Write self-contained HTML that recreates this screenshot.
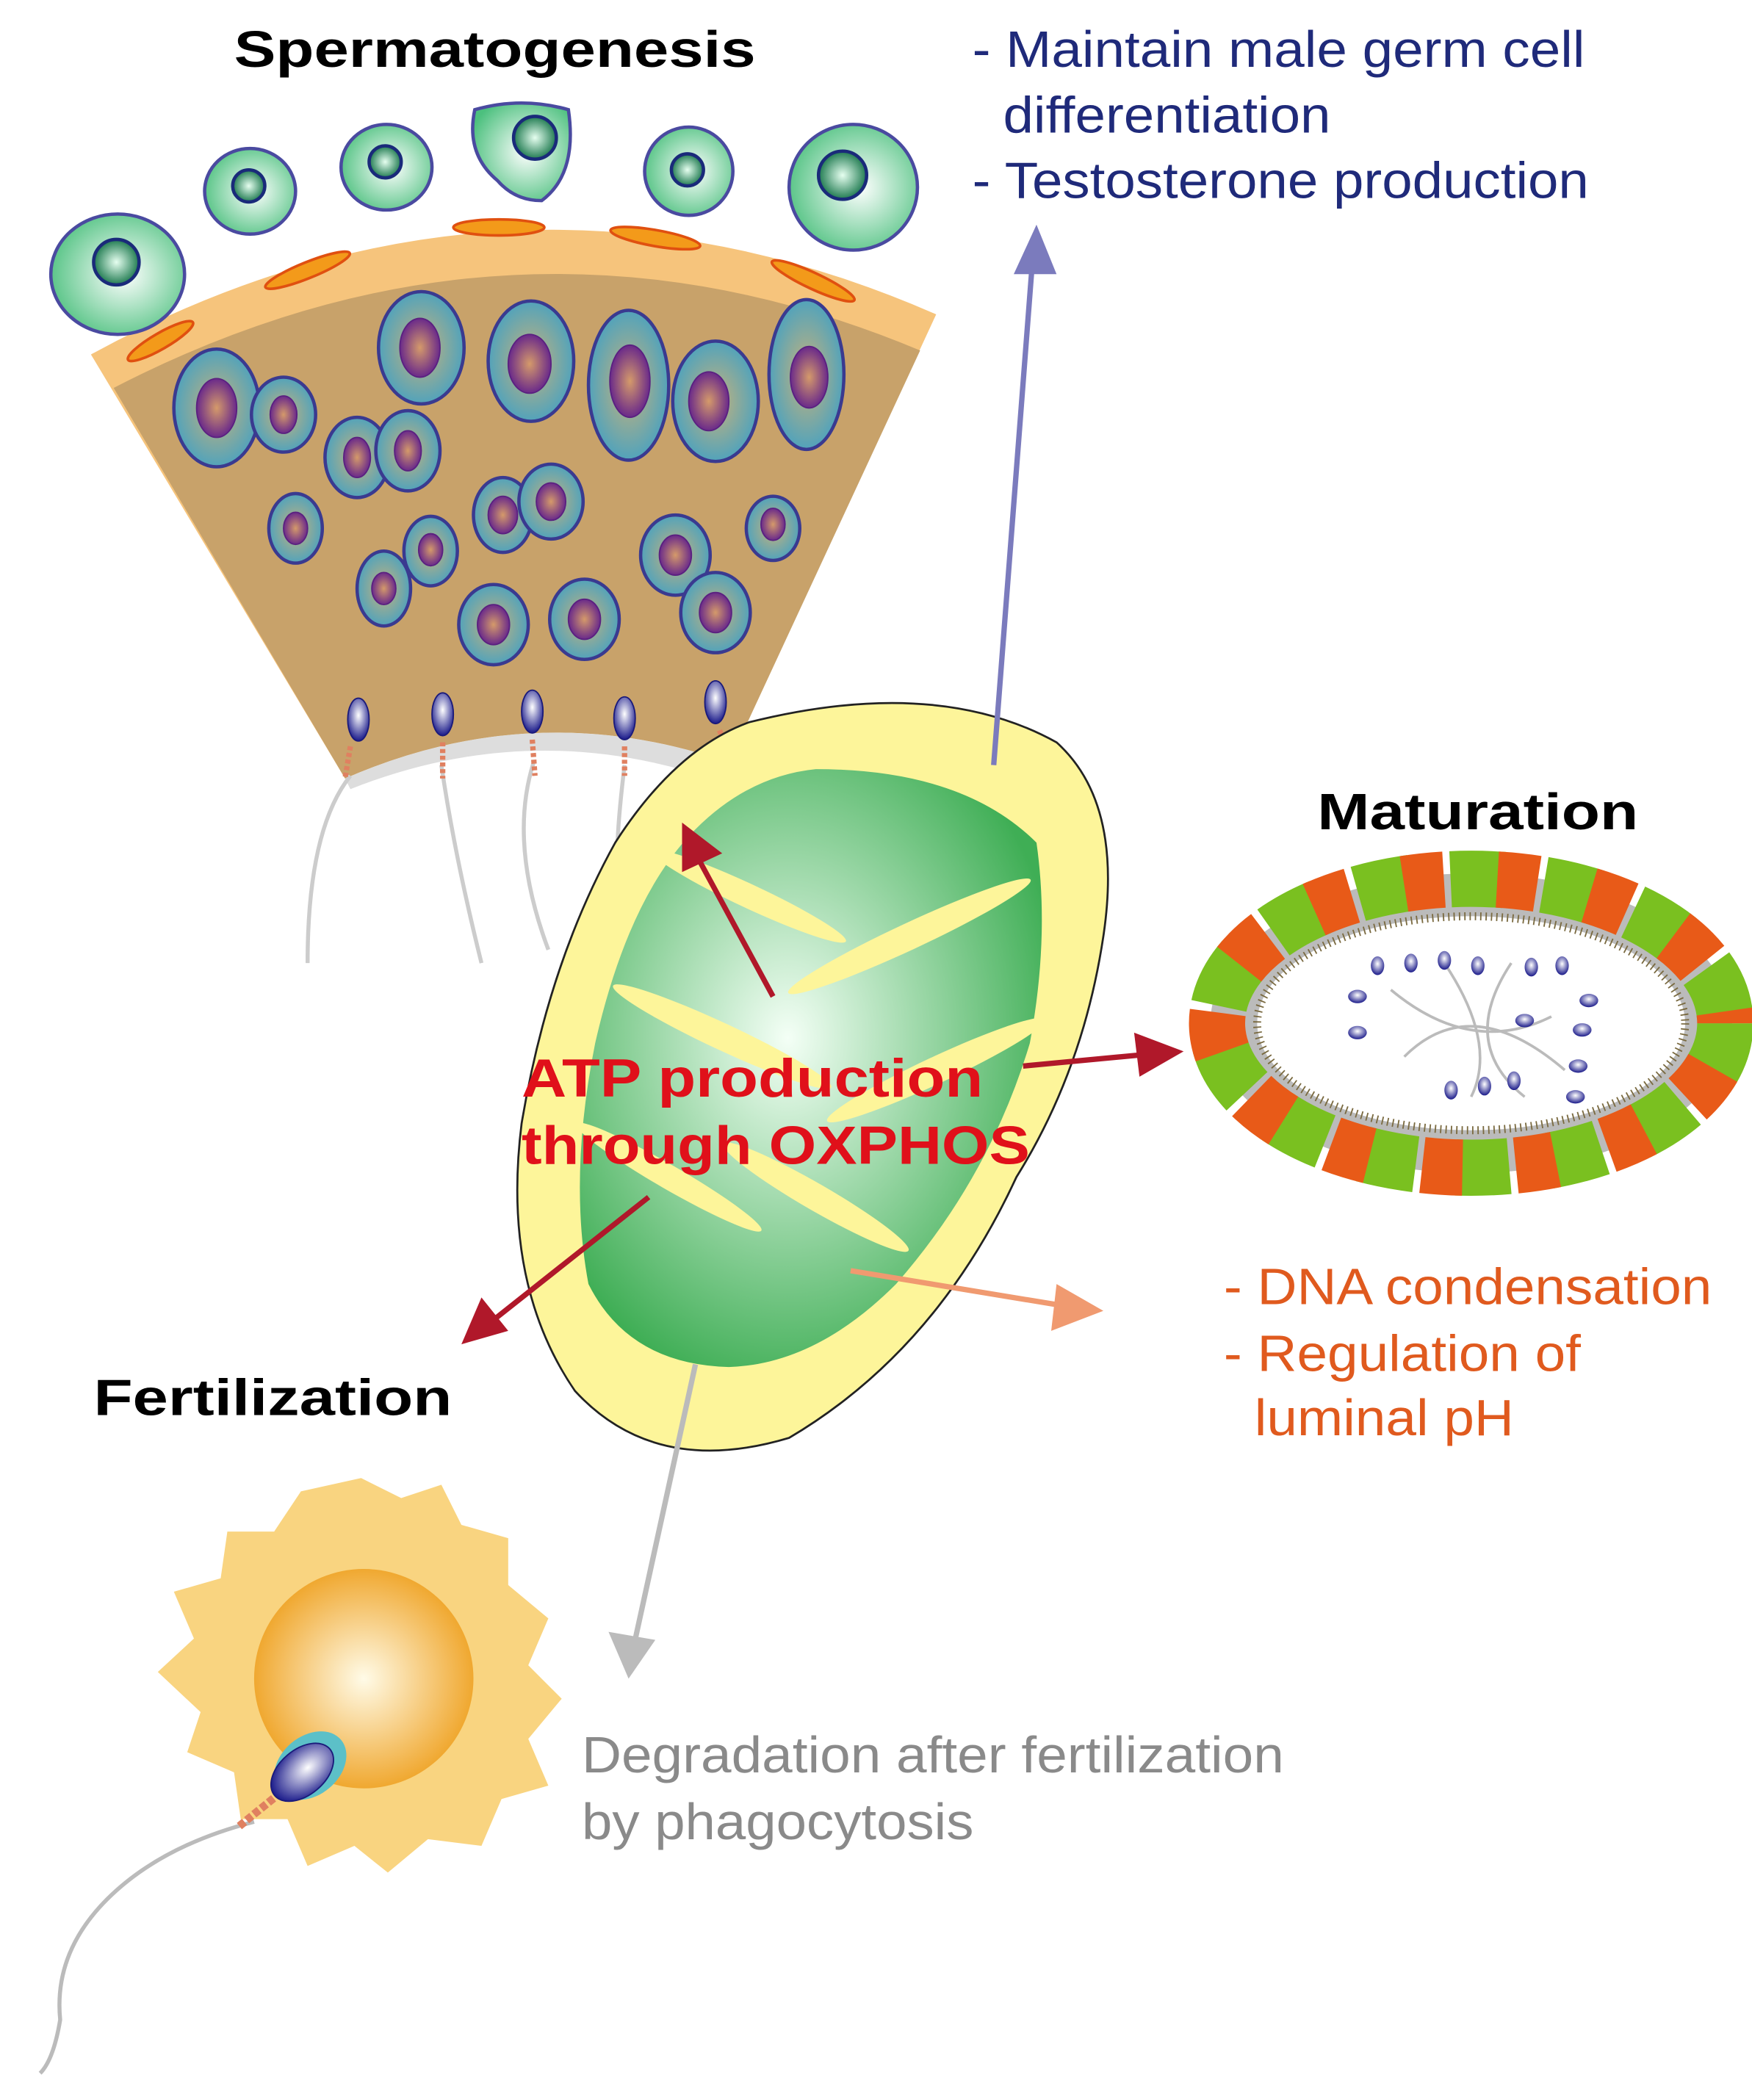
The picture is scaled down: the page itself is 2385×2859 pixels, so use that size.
<!DOCTYPE html>
<html><head><meta charset="utf-8"><style>html,body{margin:0;padding:0;background:#fff}svg{display:block}</style></head>
<body>
<svg width="2385" height="2859" viewBox="0 0 1310 1570" preserveAspectRatio="none" xmlns="http://www.w3.org/2000/svg" font-family="Liberation Sans, Arial, sans-serif">
<defs>
<radialGradient id="gc" cx="0.55" cy="0.5" r="0.6"><stop offset="0" stop-color="#fff"/><stop offset="1" stop-color="#4cc07e"/></radialGradient>
<radialGradient id="gn" cx="0.5" cy="0.5" r="0.5"><stop offset="0" stop-color="#e6fff0"/><stop offset="1" stop-color="#1f7a50"/></radialGradient>
<radialGradient id="bc" cx="0.5" cy="0.5" r="0.6"><stop offset="0" stop-color="#c8b27a"/><stop offset="1" stop-color="#3aa0c8"/></radialGradient>
<radialGradient id="pn" cx="0.5" cy="0.5" r="0.5"><stop offset="0" stop-color="#d59a6a"/><stop offset="1" stop-color="#6a2a8a"/></radialGradient>
<radialGradient id="mg" cx="0.45" cy="0.45" r="0.6"><stop offset="0" stop-color="#f4fff6"/><stop offset="1" stop-color="#3fae55"/></radialGradient>
<radialGradient id="oo" cx="0.5" cy="0.5" r="0.5"><stop offset="0" stop-color="#fffbe8"/><stop offset="1" stop-color="#f0a830"/></radialGradient>
<radialGradient id="sh" cx="0.5" cy="0.4" r="0.6"><stop offset="0" stop-color="#fff"/><stop offset="1" stop-color="#1a1a8a"/></radialGradient>
</defs>
<text x="175" y="50" font-size="38" font-weight="bold" textLength="390" lengthAdjust="spacingAndGlyphs">Spermatogenesis</text>
<g fill="#1f2a7a" font-size="38"><text x="727" y="50" textLength="458" lengthAdjust="spacingAndGlyphs">- Maintain male germ cell</text><text x="750" y="99" textLength="245" lengthAdjust="spacingAndGlyphs">differentiation</text><text x="727" y="148" textLength="461" lengthAdjust="spacingAndGlyphs">- Testosterone production</text></g>
<!-- fan -->
<path d="M68,265 Q380,95 700,235 L545,570 Q400,520 258,582 Z" fill="#f6c47c"/>
<path d="M85,290 Q385,135 688,262 L545,570 Q400,520 258,582 Z" fill="#c8a26a"/>
<path d="M258,582 Q400,520 545,570 L540,585 Q400,535 262,590 Z" fill="#ddd"/>
<g fill="#f39a1a" stroke="#e05010" stroke-width="2">
<ellipse cx="120" cy="255" rx="28" ry="6" transform="rotate(-30 120 255)"/><ellipse cx="230" cy="202" rx="34" ry="6" transform="rotate(-22 230 202)"/><ellipse cx="373" cy="170" rx="34" ry="6"/><ellipse cx="490" cy="178" rx="34" ry="6" transform="rotate(10 490 178)"/><ellipse cx="608" cy="210" rx="34" ry="6" transform="rotate(25 608 210)"/></g>
<g stroke="#4a4aa0" stroke-width="2.5" fill="url(#gc)">
<ellipse cx="88" cy="205" rx="50" ry="45"/><ellipse cx="187" cy="143" rx="34" ry="32"/><ellipse cx="289" cy="125" rx="34" ry="32"/><path d="M355,82 Q390,72 425,82 Q432,130 405,150 Q385,150 372,135 Q348,115 355,82Z"/><ellipse cx="515" cy="128" rx="33" ry="33"/><ellipse cx="638" cy="140" rx="48" ry="47"/></g>
<g stroke="#1a2a7a" stroke-width="2.5" fill="url(#gn)">
<circle cx="87" cy="196" r="17"/><circle cx="186" cy="139" r="12"/><circle cx="288" cy="121" r="12"/><circle cx="400" cy="103" r="16"/><circle cx="514" cy="127" r="12"/><circle cx="630" cy="131" r="18"/></g>
<g stroke="#3a3a90" stroke-width="2.5" fill="url(#bc)">
<ellipse cx="162" cy="305" rx="32" ry="44"/><ellipse cx="212" cy="310" rx="24" ry="28"/><ellipse cx="267" cy="342" rx="24" ry="30"/><ellipse cx="305" cy="337" rx="24" ry="30"/><ellipse cx="315" cy="260" rx="32" ry="42"/><ellipse cx="397" cy="270" rx="32" ry="45"/><ellipse cx="470" cy="288" rx="30" ry="56"/><ellipse cx="535" cy="300" rx="32" ry="45"/><ellipse cx="603" cy="280" rx="28" ry="56"/><ellipse cx="221" cy="395" rx="20" ry="26"/><ellipse cx="322" cy="412" rx="20" ry="26"/><ellipse cx="287" cy="440" rx="20" ry="28"/><ellipse cx="376" cy="385" rx="22" ry="28"/><ellipse cx="412" cy="375" rx="24" ry="28"/><ellipse cx="369" cy="467" rx="26" ry="30"/><ellipse cx="437" cy="463" rx="26" ry="30"/><ellipse cx="505" cy="415" rx="26" ry="30"/><ellipse cx="535" cy="458" rx="26" ry="30"/><ellipse cx="578" cy="395" rx="20" ry="24"/></g>
<g fill="url(#pn)" stroke="#5a2080" stroke-width="1">
<ellipse cx="162" cy="305" rx="15" ry="22"/><ellipse cx="212" cy="310" rx="10" ry="14"/><ellipse cx="267" cy="342" rx="10" ry="15"/><ellipse cx="305" cy="337" rx="10" ry="15"/><ellipse cx="314" cy="260" rx="15" ry="22"/><ellipse cx="396" cy="272" rx="16" ry="22"/><ellipse cx="471" cy="285" rx="15" ry="27"/><ellipse cx="530" cy="300" rx="15" ry="22"/><ellipse cx="605" cy="282" rx="14" ry="23"/><ellipse cx="221" cy="395" rx="9" ry="12"/><ellipse cx="322" cy="411" rx="9" ry="12"/><ellipse cx="287" cy="440" rx="9" ry="12"/><ellipse cx="376" cy="385" rx="11" ry="14"/><ellipse cx="412" cy="375" rx="11" ry="14"/><ellipse cx="369" cy="467" rx="12" ry="15"/><ellipse cx="437" cy="463" rx="12" ry="15"/><ellipse cx="505" cy="415" rx="12" ry="15"/><ellipse cx="535" cy="458" rx="12" ry="15"/><ellipse cx="578" cy="392" rx="9" ry="12"/></g>
<g>
<g fill="none" stroke="#ccc" stroke-width="3"><path d="M262,580 Q230,620 230,720"/><path d="M330,572 Q340,640 360,720"/><path d="M399,570 Q380,630 410,710"/><path d="M467,572 Q460,630 462,650"/><path d="M536,565 Q550,580 548,590"/></g>
<g fill="url(#sh)" stroke="#1a1a7a"><ellipse cx="268" cy="538" rx="8" ry="16"/><ellipse cx="331" cy="534" rx="8" ry="16"/><ellipse cx="398" cy="532" rx="8" ry="16"/><ellipse cx="467" cy="537" rx="8" ry="16"/><ellipse cx="535" cy="525" rx="8" ry="16"/></g>
<g stroke="#e08060" stroke-width="4" stroke-dasharray="3 2"><line x1="262" y1="558" x2="258" y2="582"/><line x1="331" y1="555" x2="331" y2="582"/><line x1="398" y1="553" x2="400" y2="580"/><line x1="467" y1="558" x2="467" y2="580"/><line x1="538" y1="546" x2="548" y2="572"/></g></g>
<!-- mitochondrion -->
<path d="M560,540 Q700,505 790,555 Q840,600 825,700 Q810,800 760,880 Q700,1010 590,1075 Q490,1105 430,1040 Q375,960 390,840 Q410,720 460,630 Q505,560 560,540Z" fill="#fdf59a" stroke="#222" stroke-width="1.5"/>
<path d="M610,575 Q720,575 775,630 Q785,700 770,780 Q740,880 670,960 Q610,1020 545,1022 Q470,1020 440,960 Q425,880 445,780 Q470,670 520,620 Q560,580 610,575Z" fill="url(#mg)"/>
<g fill="#fdf59a"><ellipse cx="560" cy="670" rx="80" ry="9" transform="rotate(25 560 670)"/><ellipse cx="680" cy="700" rx="100" ry="10" transform="rotate(-25 680 700)"/><ellipse cx="540" cy="775" rx="90" ry="10" transform="rotate(25 540 775)"/><ellipse cx="700" cy="800" rx="90" ry="10" transform="rotate(-25 700 800)"/><ellipse cx="500" cy="880" rx="80" ry="9" transform="rotate(30 500 880)"/><ellipse cx="610" cy="895" rx="80" ry="10" transform="rotate(30 610 895)"/></g>
<g stroke-width="4" fill="none">
<line x1="743" y1="572" x2="772" y2="195" stroke="#7b7bbd"/>
<line x1="578" y1="745" x2="520" y2="638" stroke="#b0182a"/>
<line x1="765" y1="797" x2="860" y2="788" stroke="#b0182a"/>
<line x1="485" y1="895" x2="365" y2="990" stroke="#b0182a"/>
<line x1="636" y1="950" x2="800" y2="977" stroke="#f09a70"/>
<line x1="520" y1="1020" x2="474" y2="1230" stroke="#bbb"/></g>
<polygon points="775,168 758,205 790,205" fill="#7b7bbd"/>
<polygon points="510,615 510,652 540,638" fill="#b0182a"/>
<polygon points="885,786 848,772 852,805" fill="#b0182a"/>
<polygon points="345,1005 360,970 380,995" fill="#b0182a"/>
<polygon points="825,980 790,960 786,995" fill="#f09a70"/>
<polygon points="470,1255 455,1220 490,1226" fill="#bbb"/>
<g fill="#e0101a" font-size="40" font-weight="bold"><text x="390" y="820" textLength="345" lengthAdjust="spacingAndGlyphs">ATP production</text><text x="390" y="870" textLength="380" lengthAdjust="spacingAndGlyphs">through OXPHOS</text></g>
<text x="985" y="620" font-size="38" font-weight="bold" textLength="240" lengthAdjust="spacingAndGlyphs">Maturation</text>
<ellipse cx="1100" cy="765" rx="195" ry="112" fill="#bbb"/>
<ellipse cx="1100" cy="765" rx="190" ry="108" fill="none" stroke="#7ac020" stroke-width="42" stroke-dasharray="40 30"/>
<ellipse cx="1100" cy="765" rx="190" ry="108" fill="none" stroke="#e85a18" stroke-width="42" stroke-dasharray="30 40" stroke-dashoffset="35"/>
<ellipse cx="1100" cy="765" rx="160" ry="80" fill="#fff" stroke="#7a6a40" stroke-width="6" stroke-dasharray="1 3"/>
<g fill="none" stroke="#bbb" stroke-width="2"><path d="M1040,740 Q1100,790 1160,760"/><path d="M1050,790 Q1100,740 1170,800"/><path d="M1080,720 Q1120,780 1100,820"/><path d="M1130,720 Q1090,780 1140,820"/></g>
<g fill="url(#sh)"><ellipse cx="1030" cy="722" rx="5" ry="7"/><ellipse cx="1055" cy="720" rx="5" ry="7"/><ellipse cx="1080" cy="718" rx="5" ry="7"/><ellipse cx="1105" cy="722" rx="5" ry="7"/><ellipse cx="1145" cy="723" rx="5" ry="7"/><ellipse cx="1168" cy="722" rx="5" ry="7"/><ellipse cx="1015" cy="745" rx="7" ry="5"/><ellipse cx="1015" cy="772" rx="7" ry="5"/><ellipse cx="1188" cy="748" rx="7" ry="5"/><ellipse cx="1183" cy="770" rx="7" ry="5"/><ellipse cx="1180" cy="797" rx="7" ry="5"/><ellipse cx="1178" cy="820" rx="7" ry="5"/><ellipse cx="1140" cy="763" rx="7" ry="5"/><ellipse cx="1085" cy="815" rx="5" ry="7"/><ellipse cx="1110" cy="812" rx="5" ry="7"/><ellipse cx="1132" cy="808" rx="5" ry="7"/></g>
<g fill="#e05a1e" font-size="38"><text x="915" y="975" textLength="365" lengthAdjust="spacingAndGlyphs">- DNA condensation</text><text x="915" y="1025" textLength="267" lengthAdjust="spacingAndGlyphs">- Regulation of</text><text x="938" y="1073" textLength="194" lengthAdjust="spacingAndGlyphs">luminal pH</text></g>
<text x="70" y="1058" font-size="38" font-weight="bold" textLength="268" lengthAdjust="spacingAndGlyphs">Fertilization</text>
<polygon points="270,1105 300,1120 330,1110 345,1140 380,1150 380,1185 410,1210 395,1245 420,1270 395,1300 410,1335 375,1345 360,1380 320,1375 290,1400 265,1380 230,1395 215,1360 180,1360 175,1325 140,1310 150,1280 118,1250 145,1225 130,1190 165,1180 170,1145 205,1145 225,1115" fill="#f8cc6a" opacity="0.85"/>
<circle cx="272" cy="1255" r="82" fill="url(#oo)"/>
<path d="M190,1362 Q120,1380 80,1420 Q40,1460 45,1510 Q40,1540 30,1550" fill="none" stroke="#bbb" stroke-width="3"/>
<g stroke="#e08060" stroke-width="6" stroke-dasharray="5 2"><line x1="210" y1="1340" x2="178" y2="1366"/></g>
<ellipse cx="232" cy="1320" rx="22" ry="30" transform="rotate(50 232 1320)" fill="#5cc0c8"/>
<ellipse cx="226" cy="1325" rx="17" ry="27" transform="rotate(50 226 1325)" fill="url(#sh)" stroke="#1a1a7a"/>
<g fill="#8a8a8a" font-size="38"><text x="435" y="1325" textLength="525" lengthAdjust="spacingAndGlyphs">Degradation after fertilization</text><text x="435" y="1375" textLength="293" lengthAdjust="spacingAndGlyphs">by phagocytosis</text></g>
</svg>
</body></html>
